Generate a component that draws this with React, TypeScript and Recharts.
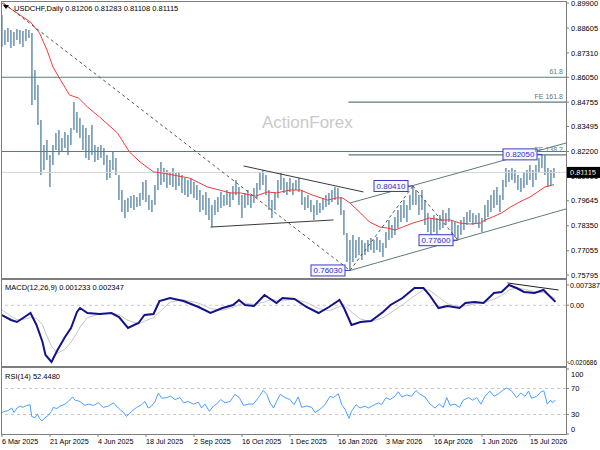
import React from "react";
import {
  Bar,
  ComposedChart,
  Line,
  ReferenceDot,
  ReferenceLine,
  XAxis,
  YAxis,
} from "recharts";

const FONT = "'Liberation Sans', Arial, sans-serif";

// x axis: trading-day index from 6 Mar 2025, price scale sits at day 376
const X_MAX = 376;
const PRICE_MIN = 0.75639;
const PRICE_MAX = 0.89952;
const MACD_MIN = -0.02214;
const MACD_MAX = 0.00921;

const dateTicks = [0, 32, 64, 96, 128, 160, 192, 224, 256, 288, 320, 352];
const dateLabels = [
  "6 Mar 2025", "21 Apr 2025", "4 Jun 2025", "18 Jul 2025", "2 Sep 2025", "16 Oct 2025",
  "1 Dec 2025", "16 Jan 2026", "3 Mar 2026", "16 Apr 2026", "1 Jun 2026", "15 Jul 2026",
];
const priceTicks = [
  0.899, 0.88605, 0.8731, 0.8605, 0.84755, 0.83495, 0.822, 0.80905, 0.79645, 0.7835, 0.77055, 0.75795,
];
const macdTicks = [0.007387, 0, -0.020686];
const macdTickText = ["0.007387", "0.00", "-0.020686"];
const rsiTicks = [100, 70, 30, 0];

// daily bars, one every second trading day (day = 2 * position)
const barHigh = [
  0.8928, 0.8850, 0.8860, 0.8850, 0.8840, 0.8855, 0.8850, 0.8845, 0.8855, 0.8850,
  0.8834, 0.8643, 0.8565, 0.8383, 0.8254, 0.8280, 0.8202, 0.8254, 0.8316, 0.8331,
  0.8290, 0.8321, 0.8305, 0.8342, 0.8477, 0.8425, 0.8394, 0.8357, 0.8342, 0.8305,
  0.8357, 0.8254, 0.8243, 0.8254, 0.8238, 0.8202, 0.8176, 0.8217, 0.8186, 0.8098,
  0.8020, 0.7968, 0.7979, 0.7989, 0.7994, 0.7984, 0.8005, 0.8062, 0.8072, 0.7994,
  0.7968, 0.8046, 0.8134, 0.8166, 0.8134, 0.8124, 0.8114, 0.8134, 0.8108, 0.8114,
  0.8098, 0.8082, 0.8072, 0.8082, 0.8062, 0.8046, 0.8020, 0.7994, 0.8010, 0.7979,
  0.7942, 0.7968, 0.7984, 0.8010, 0.7994, 0.8020, 0.8010, 0.8041, 0.8072, 0.8036,
  0.7994, 0.8005, 0.8020, 0.7994, 0.8031, 0.8057, 0.8114, 0.8124, 0.8098, 0.8020,
  0.7968, 0.8010, 0.8072, 0.8108, 0.8082, 0.8062, 0.8082, 0.8057, 0.8072, 0.8082,
  0.8020, 0.7984, 0.7994, 0.7968, 0.7942, 0.7968, 0.7953, 0.7979, 0.7994, 0.8005,
  0.8020, 0.8036, 0.8031, 0.7984, 0.7917, 0.7797, 0.7761, 0.7787, 0.7761, 0.7777,
  0.7761, 0.7745, 0.7761, 0.7771, 0.7761, 0.7777, 0.7761, 0.7745, 0.7802, 0.7865,
  0.7839, 0.7880, 0.7917, 0.7942, 0.7968, 0.7942, 0.7994, 0.8041, 0.8020, 0.7994,
  0.8020, 0.7968, 0.7901, 0.7875, 0.7891, 0.7875, 0.7891, 0.7917, 0.7901, 0.7927,
  0.7865, 0.7854, 0.7839, 0.7865, 0.7880, 0.7906, 0.7917, 0.7901, 0.7891, 0.7901,
  0.7875, 0.7942, 0.7968, 0.7994, 0.8020, 0.8036, 0.7994, 0.8072, 0.8134, 0.8124,
  0.8134, 0.8124, 0.8098, 0.8082, 0.8114, 0.8124, 0.8150, 0.8124, 0.8150, 0.8186,
  0.8205, 0.8202, 0.8134, 0.8124, 0.8134,
];
const barLow = [
  0.8762, 0.8772, 0.8788, 0.8757, 0.8767, 0.8798, 0.8777, 0.8762, 0.8793, 0.8809,
  0.8461, 0.8487, 0.8357, 0.8098, 0.8124, 0.8176, 0.8036, 0.8150, 0.8228, 0.8202,
  0.8217, 0.8238, 0.8202, 0.8254, 0.8331, 0.8316, 0.8290, 0.8228, 0.8186, 0.8176,
  0.8202, 0.8166, 0.8176, 0.8186, 0.8150, 0.8072, 0.8082, 0.8124, 0.8098, 0.7968,
  0.7906, 0.7875, 0.7906, 0.7927, 0.7917, 0.7932, 0.7937, 0.7968, 0.7958, 0.7917,
  0.7906, 0.7942, 0.8020, 0.8046, 0.8062, 0.8031, 0.8046, 0.8036, 0.8020, 0.8041,
  0.8005, 0.7994, 0.7984, 0.7999, 0.7979, 0.7968, 0.7906, 0.7917, 0.7891, 0.7865,
  0.7828, 0.7891, 0.7906, 0.7927, 0.7937, 0.7942, 0.7932, 0.7968, 0.7994, 0.7942,
  0.7875, 0.7927, 0.7942, 0.7927, 0.7953, 0.7979, 0.8020, 0.8046, 0.7994, 0.7917,
  0.7875, 0.7917, 0.7979, 0.8020, 0.8005, 0.7994, 0.8010, 0.7994, 0.8020, 0.8010,
  0.7942, 0.7917, 0.7927, 0.7906, 0.7865, 0.7891, 0.7901, 0.7917, 0.7932, 0.7942,
  0.7958, 0.7968, 0.7942, 0.7891, 0.7787, 0.7647, 0.7603, 0.7647, 0.7668, 0.7683,
  0.7657, 0.7683, 0.7699, 0.7709, 0.7694, 0.7709, 0.7699, 0.7673, 0.7720, 0.7761,
  0.7771, 0.7787, 0.7823, 0.7854, 0.7875, 0.7854, 0.7917, 0.7942, 0.7942, 0.7891,
  0.7917, 0.7839, 0.7802, 0.7777, 0.7802, 0.7787, 0.7813, 0.7823, 0.7839, 0.7854,
  0.7787, 0.7777, 0.7760, 0.7787, 0.7813, 0.7839, 0.7854, 0.7839, 0.7849, 0.7823,
  0.7802, 0.7854, 0.7880, 0.7906, 0.7927, 0.7942, 0.7906, 0.7968, 0.8036, 0.8062,
  0.8072, 0.8057, 0.8020, 0.8010, 0.8031, 0.8046, 0.8072, 0.8036, 0.8072, 0.8114,
  0.8134, 0.8098, 0.8036, 0.8046, 0.8082,
];

// red moving average
const maIndex = [
  0, 7, 19, 25, 30, 34, 39, 45, 51, 57, 65, 77, 85, 92, 101, 107, 114, 125, 137, 145,
  152, 159, 169, 177, 183, 192, 199, 207, 217, 223, 227, 232, 239, 245, 252, 257, 262, 267, 274, 281,
  285, 292, 299, 305, 312, 319, 322, 327, 333, 339, 345, 352, 357, 362, 368,
];
const maValue = [
  0.8990, 0.8954, 0.8891, 0.8834, 0.8746, 0.8658, 0.8591, 0.8513, 0.8497, 0.8451,
  0.8399, 0.8316, 0.8217, 0.8166, 0.8114, 0.8108, 0.8098, 0.8082, 0.8036, 0.8020,
  0.8005, 0.8005, 0.7989, 0.8010, 0.8005, 0.8020, 0.8020, 0.7994, 0.7968, 0.7979,
  0.7979, 0.7953, 0.7901, 0.7854, 0.7828, 0.7823, 0.7813, 0.7828, 0.7849, 0.7865,
  0.7875, 0.7865, 0.7865, 0.7849, 0.7844, 0.7849, 0.7865, 0.7880, 0.7901, 0.7932,
  0.7958, 0.7984, 0.8010, 0.8036, 0.8048,
];

// MACD(12,26,9)
const macdIndex = [
  0, 6, 10, 14, 19, 23, 27, 29, 33, 37, 42, 46, 50, 52, 57, 65, 73, 78, 84, 91,
  95, 101, 105, 112, 121, 131, 139, 147, 154, 158, 162, 168, 175, 180, 183, 187, 195, 203, 211, 218,
  225, 228, 233, 239, 246, 254, 259, 267, 275, 281, 285, 291, 297, 305, 309, 315, 321, 328, 333, 338,
  343, 348, 355, 361, 365, 369,
];
const macdValue = [
  -0.00355, -0.00537, -0.0061, -0.00464, -0.00282, -0.00719, -0.01339, -0.01813, -0.02068, -0.01631,
  -0.01157, -0.00829, -0.00245, -0.001, -0.00282, -0.00318, -0.00282, -0.00428, -0.00829, -0.00646,
  -0.00355, -0.00318, 0.00156, 0.00265, 0.00156, -0.00063, -0.00282, -0.001, 0.0001, 0.00192,
  0.0001, -0.00027, 0.00374, 0.00192, 0.00083, 0.00265, 0.00228, -0.00063, -0.00282, -0.00063,
  0.00192, -0.001, -0.00719, -0.0061, -0.00573, -0.00245, 0.0001, 0.00265, 0.00629, 0.00629,
  0.00374, -0.001, -0.00027, -0.001, 0.00083, 0.00119, 0.00083, 0.00447, 0.00484, 0.00739,
  0.00629, 0.00484, 0.00447, 0.00557, 0.00338, 0.00123,
];
const signalValue = [
  -0.0017, -0.004, -0.0052, -0.0052, -0.0045, -0.0048, -0.007, -0.01, -0.015, -0.0175,
  -0.016, -0.0135, -0.01, -0.008, -0.0045, -0.0032, -0.003, -0.0034, -0.0055, -0.0068,
  -0.0058, -0.0045, -0.0025, 0.0012, 0.002, 0.0008, -0.0012, -0.0018, -0.0008, 0.0002,
  0.0008, 0.0003, 0.0012, 0.0022, 0.0018, 0.0018, 0.0022, 0.001, -0.0012, -0.002,
  -0.0005, 0.0002, -0.0025, -0.005, -0.006, -0.0045, -0.0028, 0.0002, 0.0035, 0.0055,
  0.0055, 0.003, 0.0005, -0.0005, -0.0002, 0.0005, 0.0009, 0.0022, 0.0035, 0.0055,
  0.0065, 0.0058, 0.005, 0.0046, 0.0036, 0.0023,
];

// RSI(14)
const rsiIndex = [
  0, 2, 4, 6.5, 8, 10, 12, 14, 16.5, 18.7, 19.8, 22, 23.5, 25, 26.5, 28.7, 31, 33, 34.2, 36.5,
  38.7, 42, 44.2, 47, 48.7, 52, 55.3, 57.5, 61, 64.2, 67.5, 71, 74.2, 77.5, 81, 83, 86.5, 89.8, 93, 95.3,
  97.5, 99.8, 102, 104.2, 106.5, 109.8, 112.5, 115.3, 118.7, 121, 124.2, 127.5, 131, 133, 135.3, 138.2, 141, 143, 145.8, 148.7,
  152, 155.3, 158.2, 161, 164.2, 167.5, 171, 174.2, 176.5, 178.7, 181, 183, 185.5, 188.7, 192, 194.7, 197.5, 199.8, 203, 206.5,
  208.7, 212, 215.3, 218.7, 221, 224.2, 226.5, 228.7, 231.3, 233, 236, 238.7, 242, 244.2, 247.5, 251, 253, 256, 258.7, 262,
  264.2, 266.5, 269.8, 273, 276, 278.7, 282, 285.3, 288.7, 291.5, 294.2, 296.5, 298.7, 302, 305, 307.5, 311, 313.8, 316.5, 319.3,
  322, 325.3, 328, 331, 333.8, 336.5, 339.8, 343, 345.8, 348.7, 351, 353, 356.5, 359.8, 361.3, 363.5, 365.8, 367.1, 369,
];
const rsiValue = [
  33, 35, 36, 40, 33, 40, 43, 41, 44, 45, 27, 25, 31, 24, 20, 25, 29, 35, 41, 39,
  43, 46, 50, 57, 52, 50, 44, 46, 44, 48, 41, 43, 48, 40, 33, 27, 35, 41, 45, 50,
  40, 43, 50, 63, 55, 56, 58, 53, 56, 48, 50, 46, 49, 40, 46, 35, 43, 46, 53, 48,
  50, 61, 56, 44, 46, 46, 56, 67, 61, 48, 40, 50, 61, 56, 53, 45, 57, 41, 43, 41,
  33, 38, 45, 58, 56, 62, 45, 38, 24, 35, 45, 40, 43, 40, 44, 48, 45, 56, 53, 58,
  65, 57, 60, 58, 67, 61, 57, 46, 40, 46, 41, 56, 44, 46, 41, 52, 56, 52, 56, 46,
  58, 66, 58, 62, 67, 71, 66, 56, 63, 58, 66, 55, 58, 66, 66, 46, 52, 48, 52.448,
];

// drawn objects: [fromDay, fromPrice, toDay, toPrice]
const dashedLines = [
  [1, 0.899, 232, 0.7603],
  [232, 0.7603, 274, 0.8041],
  [274, 0.8041, 304, 0.776],
];
const triangleLines = [
  [161, 0.8145, 241, 0.801],
  [139, 0.7828, 221, 0.7865],
];
const channelLines = [
  [232, 0.7603, 376, 0.7922],
  [232, 0.7953, 376, 0.8264],
];
const levelPrices = [0.8605, 0.84755, 0.822, 0.8202];
const levelStart = [0, 231, 0, 231];
const levelText = ["61.8", "FE 161.8", "", "FE 138.2"];
const pivotDay = [232, 274, 304, 360];
const pivotPrice = [0.7603, 0.8041, 0.776, 0.8205];
const macdTrend = [337, 0.00812, 371, 0.00557];
const lastClose = 0.81115;

const barData = barHigh.map((h, k) => ({ i: k * 2, range: [barLow[k], h] }));
const maData = maIndex.map((i, k) => ({ i, v: maValue[k] }));
const macdData = macdIndex.map((i, k) => ({ i, macd: macdValue[k], signal: signalValue[k] }));
const rsiData = rsiIndex.map((i, k) => ({ i, v: rsiValue[k] }));

const seg = (l: number[]) => [
  { x: l[0], y: l[1] },
  { x: l[2], y: l[3] },
];

const PivotTag = ({ cx, cy, text }: any) => (
  <g>
    <line x1={cx - 5} y1={cy} x2={cx} y2={cy} stroke="#3b3bc8" />
    <rect x={cx - 39} y={cy - 5.5} width={34} height={11} fill="#f6f6ff" stroke="#3b3bc8" />
    <text x={cx - 22} y={cy + 3} textAnchor="middle" fontSize={8} fontFamily={FONT} fill="#3030c0">
      {text}
    </text>
  </g>
);

const PriceTag = ({ cx, cy }: any) => (
  <g>
    <rect x={cx + 1} y={cy - 5.5} width={33} height={11} fill="#000" />
    <text x={cx + 4} y={cy + 3} fontSize={7.5} fontFamily={FONT} fill="#fff">
      {lastClose.toFixed(5)}
    </text>
  </g>
);

const DateTick = ({ x, y, payload }: any) => (
  <g>
    <line x1={x} y1={y} x2={x} y2={y + 3} stroke="#808080" />
    <text x={x} y={y + 10} fontSize={7.2} fontFamily={FONT} fill="#000">
      {dateLabels[dateTicks.indexOf(payload.value)]}
    </text>
  </g>
);

const MacdTick = ({ x, y, payload }: any) => {
  const text = macdTickText[macdTicks.indexOf(payload.value)];
  const long = text.length > 8;
  return (
    <text
      x={long ? x - 3 : x - 1}
      y={y + 2.5}
      fontSize={long ? 6.6 : 7.2}
      fontFamily={FONT}
      fill="#000"
      textLength={long ? 29 : undefined}
      lengthAdjust={long ? "spacingAndGlyphs" : undefined}
    >
      {text}
    </text>
  );
};

const RsiTick = ({ x, y, payload }: any) => {
  const shift = payload.value === 100 ? 5 : payload.value === 0 ? -5 : 0;
  return (
    <text x={x} y={y + shift + 2.5} fontSize={7.5} fontFamily={FONT} fill="#000">
      {payload.value}
    </text>
  );
};

const axisTick = { fontSize: 7.5, fill: "#000", fontFamily: FONT };
const frame = (top: number, height: number): React.CSSProperties => ({
  position: "absolute",
  left: 1,
  top,
  width: 566,
  height,
  boxSizing: "border-box",
  border: "1px solid #7d7d7d",
});

export default function App() {
  return (
    <div
      style={{
        position: "absolute",
        left: 0,
        top: 0,
        width: 600,
        height: 450,
        background: "#fff",
        overflow: "hidden",
        fontFamily: FONT,
      }}
    >
      <svg width={600} height={450} style={{ position: "absolute", left: 0, top: 0 }}>
        <text x={262} y={128} fontSize={17} fontFamily={FONT} fill="#c9c9c9">
          ActionForex
        </text>
      </svg>
      <div style={frame(1, 278)} />
      <div style={frame(279, 88)} />
      <div style={frame(367, 68)} />

      <div style={{ position: "absolute", left: 0, top: 0 }}>
        <ComposedChart width={600} height={280} data={barData} margin={{ top: 2, right: 0, bottom: 2, left: 2 }}>
          <XAxis type="number" dataKey="i" domain={[0, X_MAX]} ticks={dateTicks} hide allowDataOverflow />
          <YAxis
            orientation="right"
            type="number"
            domain={[PRICE_MIN, PRICE_MAX]}
            allowDataOverflow
            ticks={priceTicks}
            interval={0}
            width={34}
            axisLine={false}
            tickSize={3}
            tickMargin={2}
            tickLine={{ stroke: "#808080" }}
            tick={axisTick}
            tickFormatter={(v: number) => v.toFixed(5)}
          />
          <ReferenceLine y={lastClose} stroke="#d4d4d4" />
          <Bar dataKey="range" fill="#5784a3" barSize={2} isAnimationActive={false} />
          <Line
            data={maData}
            dataKey="v"
            type="linear"
            stroke="#f03c3c"
            strokeWidth={1}
            dot={false}
            isAnimationActive={false}
          />
          {levelPrices.map((p, k) => (
            <ReferenceLine
              key={"lv" + k}
              segment={[
                { x: levelStart[k], y: p },
                { x: X_MAX, y: p },
              ]}
              stroke="#5e7b7b"
              strokeWidth={1.2}
              ifOverflow="visible"
              label={
                levelText[k]
                  ? {
                      value: levelText[k],
                      position: "insideBottomRight",
                      offset: 3,
                      fontSize: 7,
                      fontFamily: FONT,
                      fill: "#5e7b7b",
                    }
                  : undefined
              }
            />
          ))}
          {dashedLines.map((l, k) => (
            <ReferenceLine key={"d" + k} segment={seg(l)} stroke="#555" strokeDasharray="3 3" ifOverflow="visible" />
          ))}
          {triangleLines.map((l, k) => (
            <ReferenceLine key={"t" + k} segment={seg(l)} stroke="#3a3a3a" ifOverflow="visible" />
          ))}
          {channelLines.map((l, k) => (
            <ReferenceLine key={"c" + k} segment={seg(l)} stroke="#5e7b7b" ifOverflow="visible" />
          ))}
          {pivotDay.map((d, k) => (
            <ReferenceDot
              key={"p" + k}
              x={d}
              y={pivotPrice[k]}
              ifOverflow="visible"
              shape={(props: any) => <PivotTag {...props} text={pivotPrice[k].toFixed(5)} />}
            />
          ))}
          <ReferenceDot x={X_MAX} y={lastClose} ifOverflow="visible" shape={(props: any) => <PriceTag {...props} />} />
        </ComposedChart>
      </div>

      <div style={{ position: "absolute", left: 0, top: 278 }}>
        <ComposedChart width={600} height={88} data={macdData} margin={{ top: 2, right: 0, bottom: 0, left: 2 }}>
          <XAxis type="number" dataKey="i" domain={[0, X_MAX]} hide allowDataOverflow />
          <YAxis
            orientation="right"
            type="number"
            domain={[MACD_MIN, MACD_MAX]}
            allowDataOverflow
            ticks={macdTicks}
            interval={0}
            width={34}
            axisLine={false}
            tickSize={3}
            tickMargin={2}
            tickLine={{ stroke: "#808080" }}
            tick={<MacdTick />}
          />
          <ReferenceLine y={0} stroke="#c8c8c8" strokeDasharray="3 3" />
          <Line dataKey="signal" type="linear" stroke="#c6c6c6" strokeWidth={1} dot={false} isAnimationActive={false} />
          <Line dataKey="macd" type="linear" stroke="#12128c" strokeWidth={2} dot={false} isAnimationActive={false} />
          <ReferenceLine segment={seg(macdTrend)} stroke="#222" ifOverflow="visible" />
        </ComposedChart>
      </div>

      <div style={{ position: "absolute", left: 0, top: 366 }}>
        <ComposedChart width={600} height={84} data={rsiData} margin={{ top: 3, right: 0, bottom: 0, left: 2 }}>
          <XAxis
            type="number"
            dataKey="i"
            domain={[0, X_MAX]}
            allowDataOverflow
            ticks={dateTicks}
            interval={0}
            height={16}
            axisLine={false}
            tickLine={false}
            tickSize={0}
            tickMargin={0}
            tick={<DateTick />}
          />
          <YAxis
            orientation="right"
            type="number"
            domain={[0, 100]}
            allowDataOverflow
            ticks={rsiTicks}
            interval={0}
            width={34}
            axisLine={false}
            tickSize={3}
            tickMargin={2}
            tickLine={{ stroke: "#808080" }}
            tick={<RsiTick />}
          />
          <ReferenceLine y={70} stroke="#c8c8c8" strokeDasharray="3 3" />
          <ReferenceLine y={30} stroke="#c8c8c8" strokeDasharray="3 3" />
          <Line dataKey="v" type="linear" stroke="#4aa0ff" strokeWidth={1} dot={false} isAnimationActive={false} />
        </ComposedChart>
      </div>

      <svg width={600} height={450} style={{ position: "absolute", left: 0, top: 0, pointerEvents: "none" }}>
        <polygon points="3,5 9,5 6,9" fill="#000" />
        <text x={14} y={10.5} fontSize={7.5} fontFamily={FONT} fill="#000">
          USDCHF,Daily  0.81206 0.81283 0.81108 0.81115
        </text>
        <text x={5} y={290} fontSize={7.5} fontFamily={FONT} fill="#000">
          MACD(12,26,9) 0.001233 0.002347
        </text>
        <text x={5} y={379} fontSize={7.5} fontFamily={FONT} fill="#000">
          RSI(14) 52.4480
        </text>
      </svg>
    </div>
  );
}
